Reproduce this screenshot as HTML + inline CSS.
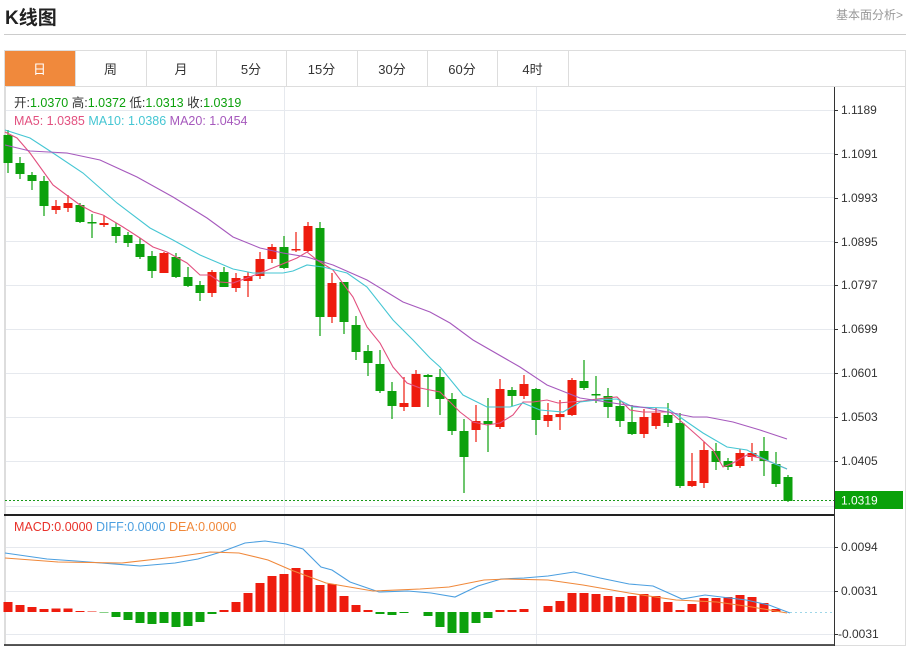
<!DOCTYPE html>
<html><head><meta charset="utf-8"><style>
body{margin:0;background:#fff;font-family:"Liberation Sans","Noto Sans CJK SC",sans-serif;}
#w{position:relative;width:909px;height:646px;overflow:hidden}
.t{position:absolute;white-space:nowrap}
</style></head><body><div id="w">
<div class="t" style="left:5px;top:3px;font-size:19px;font-weight:bold;color:#222">K线图</div>
<div class="t" style="left:836px;top:6px;font-size:12px;color:#999">基本面分析&gt;</div>
<div style="position:absolute;left:4px;top:34px;width:902px;height:1px;background:#ccc"></div>
<svg id="s" width="909" height="646" style="position:absolute;left:0;top:0"></svg>
</div>
<script>
const NS="http://www.w3.org/2000/svg";const s=document.getElementById('s');
function el(t,a,txt){const e=document.createElementNS(NS,t);for(const k in a)e.setAttribute(k,a[k]);if(txt!=null)e.textContent=txt;s.appendChild(e);return e;}
// frame
el('rect',{x:4.5,y:50.5,width:901,height:595,fill:'none',stroke:'#ddd'});
el('line',{x1:4,y1:86.5,x2:906,y2:86.5,stroke:'#ddd'});
const tabs=['日','周','月','5分','15分','30分','60分','4时'];const tb=[4,75,146,216,286,357,427,497,568];
tabs.forEach((n,i)=>{if(i==0)el('rect',{x:5,y:51,width:70,height:35,fill:'#f0893c'});
el('line',{x1:tb[i+1]+.5,y1:51,x2:tb[i+1]+.5,y2:86,stroke:'#ddd'});
el('text',{x:(tb[i]+tb[i+1])/2,y:74,'font-size':13,'text-anchor':'middle',fill:i?'#333':'#fff'},n);});
// grid
[110,153,197,241,285,329,373,417,461,506].forEach(y=>el('line',{x1:5,y1:y+.5,x2:834,y2:y+.5,stroke:'#e6e9ee'}));
[547,591,634].forEach(y=>el('line',{x1:5,y1:y+.5,x2:834,y2:y+.5,stroke:'#e6e9ee'}));
[284,536].forEach(x=>el('line',{x1:x+.5,y1:87,x2:x+.5,y2:645,stroke:'#e6e9ee'}));
el('line',{x1:5.5,y1:87,x2:5.5,y2:645,stroke:'#ddd'});
el('line',{x1:834.5,y1:87,x2:834.5,y2:646,stroke:'#333'});
el('line',{x1:4,y1:515,x2:834,y2:515,stroke:'#222','stroke-width':2});
el('line',{x1:4,y1:645,x2:834,y2:645,stroke:'#222','stroke-width':1.5});
// axis labels
[[110,'1.1189'],[154,'1.1091'],[198,'1.0993'],[242,'1.0895'],[285,'1.0797'],[329,'1.0699'],[373,'1.0601'],[417,'1.0503'],[461,'1.0405']].forEach(([y,t])=>{el('line',{x1:834,y1:y+.5,x2:838,y2:y+.5,stroke:'#333'});el('text',{x:841,y:y+4,'font-size':12,fill:'#333'},t)});
[[547,'0.0094'],[591,'0.0031'],[634,'-0.0031']].forEach(([y,t])=>{el('line',{x1:834,y1:y+.5,x2:838,y2:y+.5,stroke:'#333'});el('text',{x:t[0]=='-'?838:841,y:y+4,'font-size':12,fill:'#333'},t)});
el('line',{x1:5,y1:500.5,x2:834,y2:500.5,stroke:'#1a9a1a','stroke-dasharray':'2,2'});
el('rect',{x:835,y:491,width:68,height:18,fill:'#0aa10a'});
el('text',{x:841,y:504.5,'font-size':12,fill:'#fff'},'1.0319');
// candles [ot,ob,ht,hb,red]
const C=[[135,163,130,173,0],[163,174,157,179,0],[175,181,172,190,0],[181,206,176,216,0],[206,210,200,214,1],[203,208,195,212,1],[205,222,203,223,0],[222,223,214,238,0],[223,225,215,227,1],[227,236,223,243,0],[235,243,232,247,0],[244,257,238,259,0],[256,271,251,278,0],[253,273,252,273,1],[257,277,253,278,0],[277,286,267,287,0],[285,293,281,301,0],[272,293,270,297,1],[272,287,267,287,0],[278,288,273,292,1],[276,281,272,297,1],[259,276,252,279,1],[247,259,244,263,1],[247,268,236,269,0],[249,250,232,252,1],[226,251,222,252,1],[228,317,222,336,0],[283,317,273,323,1],[282,322,282,334,0],[325,352,316,360,0],[351,363,345,376,0],[364,391,350,393,0],[391,406,382,419,0],[403,407,377,411,1],[374,407,370,407,1],[375,377,374,407,0],[377,399,369,415,0],[399,431,393,435,0],[431,457,419,493,0],[421,430,405,442,1],[421,424,398,452,0],[389,427,379,429,1],[390,396,387,406,0],[384,396,375,399,1],[389,420,388,435,0],[415,421,403,427,1],[414,417,400,430,1],[380,415,378,416,1],[381,388,360,390,0],[394,395,376,403,0],[396,407,388,418,0],[406,421,400,427,0],[422,434,405,435,0],[417,434,409,438,1],[413,426,408,429,1],[415,423,403,427,0],[423,486,413,488,0],[481,486,453,487,1],[450,483,442,488,1],[451,462,443,470,0],[461,467,458,470,0],[453,466,449,468,1],[453,457,443,461,1],[451,461,437,476,0],[464,484,452,487,0],[477,501,475,502,0]];
C.forEach((c,i)=>{const x=8+i*12,col=c[4]?'#ee1c0e':'#0ca10c';
el('line',{x1:x,y1:c[2],x2:x,y2:c[3],stroke:col,'stroke-width':1.2});
el('rect',{x:x-4.5,y:c[0],width:9,height:Math.max(1.5,c[1]-c[0]),fill:col});});
function pl(p,col){el('polyline',{points:p.map(a=>a.join(',')).join(' '),fill:'none',stroke:col,'stroke-width':1.1});}
pl([[5,132],[17,138],[30,153],[53,185],[80,205],[93,212],[103,215],[123,227],[140,238],[153,247],[167,252],[187,263],[200,275],[210,275],[220,282],[233,283],[247,278],[260,273],[280,265],[297,258],[307,252],[317,260],[333,270],[353,297],[367,327],[380,343],[393,367],[407,383],[420,388],[440,392],[460,412],[473,422],[487,425],[500,423],[513,415],[523,402],[533,402],[547,400],[558,403],[570,402],[583,401],[597,399],[617,397],[630,410],[643,412],[657,412],[670,412],[683,423],[700,438],[713,450],[723,467],[733,463],[747,455],[760,458],[773,463],[787,469]],'#e2507f');
pl([[5,130],[30,138],[53,153],[83,173],[117,203],[150,228],[173,240],[200,255],[233,269],[253,273],[283,273],[293,271],[307,265],[323,267],[347,273],[367,287],[393,320],[413,340],[430,358],[440,367],[463,395],[487,407],[510,407],[523,403],[540,410],[563,412],[580,402],[597,400],[617,399],[633,407],[667,408],[687,422],[703,433],[727,447],[747,450],[760,457],[773,463],[787,469]],'#45c6d3');
pl([[5,145],[30,151],[67,153],[100,160],[137,177],[173,197],[207,218],[233,237],[260,248],[283,253],[307,257],[333,265],[367,280],[403,302],[430,312],[450,323],[473,340],[520,367],[547,385],[580,398],[613,403],[647,408],[673,413],[693,417],[707,417],[733,422],[760,430],[787,439]],'#a659bd');
// MACD bars
const B=[10,7,5,3,3.5,3.5,1,.5,-.5,-5,-8,-11,-12,-11,-15,-14,-10,-2,2,10,19,29,36,38,44,42,27,28,16,7,2,-2,-3,-1,0,-4,-15,-21,-21,-11,-6,2,2,3,0,6,11,19,19,18,16,15,16,18,16,10,2,8,14,14,15,17,15,9,3,0];
B.forEach((v,i)=>{if(!v)return;const x=8+i*12;el('rect',{x:x-4.5,y:v>0?612-v:612,width:9,height:Math.abs(v),fill:v>0?'#ee1c0e':'#0ca10c'});});
el('line',{x1:790,y1:612.5,x2:834,y2:612.5,stroke:'#9fd7e8','stroke-dasharray':'2,3'});
pl([[5,553],[47,559],[76,561],[140,566],[175,563],[198,559],[221,552],[245,543],[265,541],[286,544],[303,549],[321,567],[332,570],[350,582],[379,592],[408,591],[431,593],[455,597],[478,586],[501,579],[524,578],[548,576],[574,572],[600,578],[629,584],[653,586],[682,599],[705,595],[746,600],[769,605],[790,613]],'#4b9fe0');
pl([[5,558],[58,562],[122,563],[175,557],[210,552],[239,553],[268,560],[291,570],[326,583],[373,591],[420,589],[449,587],[484,580],[507,579],[548,580],[583,585],[629,593],[676,600],[717,602],[752,607],[787,613]],'#f0883a');
// info text
function tx(x,y,parts){const t=el('text',{x:x,y:y,'font-size':12.5});parts.forEach(([c,str])=>{const sp=document.createElementNS(NS,'tspan');sp.setAttribute('fill',c);sp.textContent=str;t.appendChild(sp);});}
tx(14,107,[['#333','开:'],['#0ca10c','1.0370  '],['#333','高:'],['#0ca10c','1.0372  '],['#333','低:'],['#0ca10c','1.0313  '],['#333','收:'],['#0ca10c','1.0319']]);
tx(14,125,[['#e2507f','MA5: 1.0385   '],['#45c6d3','MA10: 1.0386   '],['#a659bd','MA20: 1.0454']]);
tx(14,531,[['#e8312a','MACD:0.0000   '],['#4b9fe0','DIFF:0.0000   '],['#f0883a','DEA:0.0000']]);
document.querySelectorAll('text').forEach(t=>t.setAttribute('xml:space','preserve'));
</script></body></html>
